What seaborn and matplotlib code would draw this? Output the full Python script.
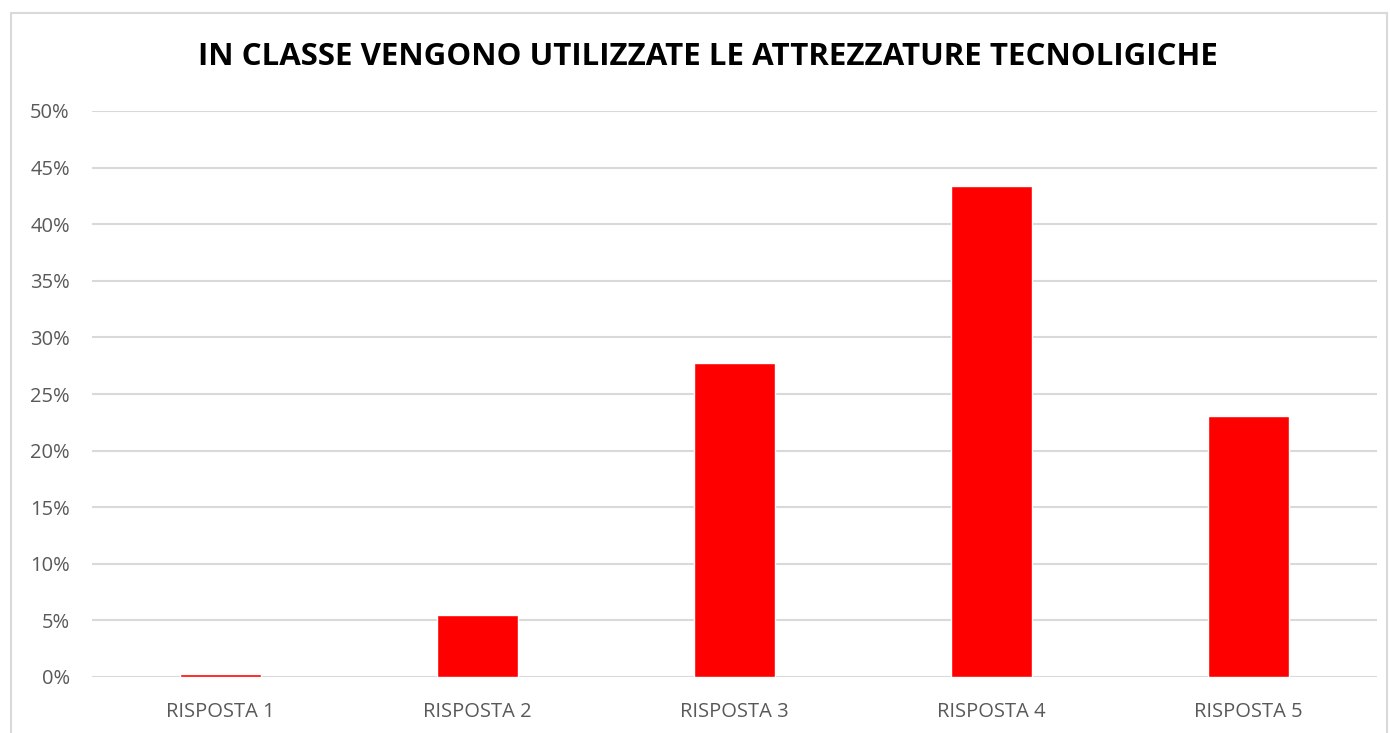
import matplotlib.pyplot as plt
import matplotlib.patches as mpatches
from matplotlib.ticker import PercentFormatter
import pandas as pd
import seaborn as sns

# dati
categorie = ["RISPOSTA 1", "RISPOSTA 2", "RISPOSTA 3", "RISPOSTA 4", "RISPOSTA 5"]
percentuali = [0.3, 5.5, 27.7, 43.4, 23.1]
titolo = "IN CLASSE VENGONO UTILIZZATE LE ATTREZZATURE TECNOLIGICHE"

df = pd.DataFrame({"risposta": categorie, "perc": percentuali})

sns.set_style("white")
plt.rcParams["font.family"] = ["Open Sans", "DejaVu Sans"]

fig = plt.figure(figsize=(13.9, 7.33), dpi=100)
ax = fig.add_axes([92 / 1390, (733 - 677) / 733, 1285 / 1390, 566 / 733])

sns.barplot(data=df, x="risposta", y="perc", color="#ff0000", width=0.315,
            saturation=1, ax=ax, zorder=3)

ax.set_ylim(0, 50)
ax.set_yticks(range(0, 51, 5))
ax.yaxis.set_major_formatter(PercentFormatter(decimals=0))
ax.grid(axis="y", color="#d9d9d9", linewidth=1.5, zorder=0)
ax.set_axisbelow(True)
for s in ax.spines.values():
    s.set_visible(False)
ax.tick_params(axis="both", length=0, labelsize=14.5, labelcolor="#595959")
ax.tick_params(axis="x", pad=18)
ax.tick_params(axis="y", pad=16)
ax.set_xlabel("")
ax.set_ylabel("")

fig.text(708 / 1390, 1 - 57 / 733, titolo, ha="center", va="center",
         fontsize=22.5, fontweight="bold", color="black")

# cornice grigia del grafico
fig.patches.append(mpatches.Rectangle((11 / 1390, -0.05), 1376 / 1390, 1.05 - 13 / 733,
                                      transform=fig.transFigure, fill=False,
                                      edgecolor="#d9d9d9", linewidth=1.5))

fig.savefig("out.png", dpi=100)
